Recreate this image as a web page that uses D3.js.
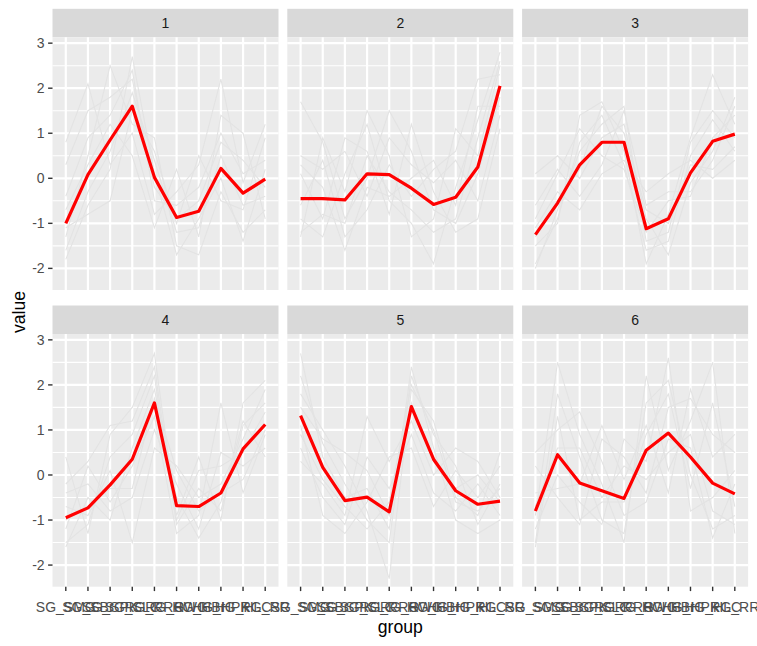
<!DOCTYPE html>
<html><head><meta charset="utf-8">
<script src="https://cdn.jsdelivr.net/npm/d3@7"></script>
<style>body{margin:0;background:#fff}svg{display:block}</style>
</head><body>
<svg id="c" width="757" height="646"></svg>
<script>
const groups = ["SG_SMG","SG_SBr","SG_SPK","SG_SLC","RG_RRG","RG_RWG","HG_HBr","HG_HPK","HG_HLC","RG_RR"];
const clusters = ["1","2","3","4","5","6"];
const yTicks = [-2,-1,0,1,2,3];

const centroid1 = [-1.0, 0.08, 0.85, 1.6, 0.02, -0.87, -0.73, 0.22, -0.33, -0.02];
const centroid2 = [-0.45, -0.45, -0.48, 0.1, 0.08, -0.22, -0.58, -0.42, 0.25, 2.05];
const centroid3 = [-1.25, -0.55, 0.3, 0.8, 0.8, -1.12, -0.9, 0.12, 0.82, 0.98];
const centroid4 = [-0.95, -0.73, -0.22, 0.35, 1.6, -0.68, -0.7, -0.4, 0.58, 1.12];
const centroid5 = [1.32, 0.17, -0.57, -0.49, -0.82, 1.52, 0.35, -0.35, -0.65, -0.58];
const centroid6 = [-0.8, 0.45, -0.18, -0.35, -0.52, 0.55, 0.93, 0.4, -0.18, -0.42];

const members1 = [
 [-1.6,-0.3,0.6,1.9,0.4,-1.2,-1.1,0.5,-0.6,-0.4],
 [-0.4,0.9,1.4,2.4,-0.5,-0.6,-0.2,1.0,0.1,0.4],
 [-1.3,0.5,2.5,1.2,0.9,-1.5,-1.7,-0.3,-1.2,-0.7],
 [0.8,2.1,0.3,1.0,-0.8,-0.3,0.3,2.2,-0.1,1.2],
 [-1.8,-0.6,0.2,2.7,0.1,-1.7,-0.9,0.0,-1.4,0.2],
 [-0.7,0.3,1.2,0.5,-1.1,0.2,-1.3,1.4,1.0,-0.9],
 [-1.1,-0.8,-0.5,1.5,0.6,-1.0,0.5,-0.5,-0.7,0.9],
 [0.3,1.5,1.8,2.2,-0.2,-0.9,-0.5,0.8,0.4,-0.2]];
const members2 = [
 [-1.2,-0.8,-1.0,0.5,-0.3,-0.7,-1.2,-0.9,0.9,2.6],
 [0.5,0.2,0.6,-0.4,0.9,0.3,-0.1,0.4,-0.5,1.4],
 [-0.9,-1.3,0.1,1.2,-0.5,-1.0,-1.9,-0.2,1.3,2.8],
 [1.7,0.8,-0.9,0.0,1.5,0.6,-0.7,-1.0,0.1,1.8],
 [-0.6,0.4,-1.3,-0.7,0.3,-0.4,0.2,0.6,2.2,2.3],
 [0.1,-0.9,0.9,0.6,-0.8,1.2,-0.3,-1.2,-0.9,1.1],
 [-1.3,0.9,-0.3,1.5,0.5,-1.3,-0.9,1.1,0.5,2.5],
 [0.3,-0.2,-1.6,-0.2,-0.4,0.0,0.4,-0.6,1.6,1.6]];
const members3 = [
 [-1.9,-0.9,0.8,1.4,0.3,-1.6,-1.4,0.5,1.3,0.6],
 [-0.6,0.2,-0.4,0.3,1.5,-0.6,-0.3,-0.3,0.4,1.6],
 [-1.5,-1.0,1.4,1.7,0.6,-1.9,-0.8,0.9,2.3,1.2],
 [0.1,0.5,0.0,0.9,1.2,-0.9,-1.7,-0.1,0.6,1.8],
 [-1.1,-0.3,-0.7,0.1,0.4,-0.3,0.1,0.4,0.0,0.4],
 [-2.0,-0.7,0.6,1.2,1.6,-1.4,-1.2,0.8,1.5,0.9],
 [-0.9,0.1,1.1,0.5,0.2,-1.2,-0.5,-0.4,0.9,1.4],
 [-1.3,-0.5,0.2,1.6,1.0,-0.7,-1.0,0.3,0.2,0.7]];
const members4 = [
 [-1.5,-1.1,0.4,0.9,2.2,-1.1,-0.3,-0.8,1.1,1.6],
 [-0.4,-0.2,-0.8,-0.5,1.0,-0.2,-1.2,0.5,0.2,0.6],
 [0.4,-1.3,0.9,1.5,2.7,-0.9,0.4,-1.0,1.6,2.1],
 [-1.2,0.2,-0.6,0.2,1.3,-1.3,-0.9,1.6,-0.4,0.9],
 [-0.7,-0.9,0.1,-1.5,0.6,0.2,-0.5,-0.2,0.8,1.9],
 [-1.6,-0.5,-1.0,0.6,1.9,-0.5,-1.4,-0.6,1.2,0.4],
 [-0.2,0.3,1.1,1.2,2.4,-1.0,0.1,0.2,0.5,1.4],
 [-1.0,-0.7,-0.3,-0.3,1.7,0.1,-0.8,-0.4,-0.1,1.0]];
const members5 = [
 [2.2,0.7,-0.2,-1.0,-1.5,2.2,0.9,0.2,-1.1,-0.2],
 [0.6,-0.5,-1.1,0.4,-0.3,0.9,-0.4,-0.8,-0.2,-0.9],
 [1.8,1.0,0.2,-0.8,-2.3,1.9,1.2,-0.5,-0.9,0.5],
 [0.3,-0.2,-0.9,1.3,0.3,1.2,0.0,0.6,0.3,-0.5],
 [2.7,0.4,-0.5,-0.3,-1.2,2.4,0.6,-1.0,-1.3,-1.0],
 [1.1,-0.9,-1.3,-0.6,0.4,0.6,-0.7,0.1,-0.5,0.2],
 [1.5,0.8,0.5,0.1,-0.9,1.6,0.3,-0.3,0.0,-0.6],
 [0.9,-0.1,-0.7,-1.2,-0.6,2.0,1.0,-0.6,-0.8,-0.3]];
const members6 = [
 [-1.5,1.8,0.4,-1.0,-1.3,1.6,2.1,0.0,-1.2,-0.9],
 [0.2,-0.5,-1.1,0.8,0.4,-0.4,1.5,1.7,0.9,0.5],
 [-0.9,2.5,0.9,-0.2,-1.5,2.2,0.1,1.2,2.5,-1.3],
 [-1.2,0.0,-0.6,-1.1,0.8,0.3,2.6,-0.8,-0.5,0.1],
 [0.5,1.0,1.4,0.3,-0.9,-0.6,0.8,0.6,-1.4,-0.2],
 [-0.4,-0.3,-0.2,1.1,-0.1,1.1,-0.4,1.9,0.4,0.9],
 [-1.6,1.3,-1.0,-0.6,-0.6,0.9,1.8,-0.3,1.6,-0.7],
 [-0.7,0.6,0.6,-0.5,0.2,-0.1,0.5,0.9,-0.8,-1.1]];

const centroids = [centroid1,centroid2,centroid3,centroid4,centroid5,centroid6];
const members = [members1,members2,members3,members4,members5,members6];

const svg = d3.select("#c");
const FONT = "Arial, 'Liberation Sans', sans-serif";
const panelW = 226, gapX = 8.8, left0 = 52.5;
const stripH = 28.5;
const rows = [{stripTop: 8.8, top: 37.3, bottom: 290}, {stripTop: 305.5, top: 334, bottom: 586.7}];
const yDomain = [-2.48, 3.13];

clusters.forEach((cl, i) => {
  const col = i % 3, row = Math.floor(i / 3);
  const x0 = left0 + col * (panelW + gapX);
  const R = rows[row];
  const x = d3.scalePoint().domain(groups).range([x0, x0 + panelW]).padding(0.6);
  const y = d3.scaleLinear().domain(yDomain).range([R.bottom, R.top]);
  const g = svg.append("g");
  g.append("rect").attr("x", x0).attr("y", R.stripTop).attr("width", panelW).attr("height", stripH).attr("fill", "#D9D9D9");
  g.append("text").attr("x", x0 + panelW / 2).attr("y", R.stripTop + stripH / 2).attr("dy", "0.36em")
    .attr("text-anchor", "middle").attr("font-family", FONT).attr("font-size", 14).attr("fill", "#1A1A1A").text(cl);
  g.append("rect").attr("x", x0).attr("y", R.top).attr("width", panelW).attr("height", R.bottom - R.top).attr("fill", "#EBEBEB");
  const minor = [-2.5,-1.5,-0.5,0.5,1.5,2.5].filter(v => v > yDomain[0] && v < yDomain[1]);
  g.selectAll(".mn").data(minor).enter().append("line")
    .attr("x1", x0).attr("x2", x0 + panelW).attr("y1", d => y(d)).attr("y2", d => y(d))
    .attr("stroke", "#fff").attr("stroke-width", 1.1);
  g.selectAll(".mj").data(yTicks).enter().append("line")
    .attr("x1", x0).attr("x2", x0 + panelW).attr("y1", d => y(d)).attr("y2", d => y(d))
    .attr("stroke", "#fff").attr("stroke-width", 2.2);
  g.selectAll(".vx").data(groups).enter().append("line")
    .attr("x1", d => x(d)).attr("x2", d => x(d)).attr("y1", R.top).attr("y2", R.bottom)
    .attr("stroke", "#fff").attr("stroke-width", 2.2);
  const line = d3.line().x((d, k) => x(groups[k])).y(d => y(d));
  g.selectAll(".m").data(members[i]).enter().append("path")
    .attr("d", line).attr("fill", "none").attr("stroke", "#E3E3E3").attr("stroke-width", 1.1);
  g.append("path").datum(centroids[i]).attr("d", line).attr("fill", "none")
    .attr("stroke", "#FF0000").attr("stroke-width", 3.2).attr("stroke-linejoin", "round");
  if (col === 0) {
    yTicks.forEach(v => {
      g.append("line").attr("x1", x0 - 4.4).attr("x2", x0).attr("y1", y(v)).attr("y2", y(v))
        .attr("stroke", "#333333").attr("stroke-width", 1.4);
      g.append("text").attr("x", x0 - 7.9).attr("y", y(v)).attr("dy", "0.36em").attr("text-anchor", "end")
        .attr("font-family", FONT).attr("font-size", 14).attr("fill", "#4D4D4D").text(v);
    });
  }
  if (row === 1) {
    groups.forEach(gname => {
      g.append("line").attr("x1", x(gname)).attr("x2", x(gname)).attr("y1", R.bottom).attr("y2", R.bottom + 4.4)
        .attr("stroke", "#333333").attr("stroke-width", 1.4);
      g.append("text").attr("x", x(gname)).attr("y", 612).attr("text-anchor", "middle")
        .attr("font-family", FONT).attr("font-size", 14).attr("fill", "#4D4D4D").text(gname);
    });
  }
});

svg.append("text").attr("x", left0 + (3 * panelW + 2 * gapX) / 2).attr("y", 633).attr("text-anchor", "middle")
  .attr("font-family", FONT).attr("font-size", 17.6).attr("fill", "#000").text("group");
svg.append("text").attr("transform", "translate(25," + ((rows[0].top + rows[1].bottom) / 2) + ") rotate(-90)")
  .attr("text-anchor", "middle").attr("font-family", FONT).attr("font-size", 17.6).attr("fill", "#000").text("value");
</script>
</body></html>
